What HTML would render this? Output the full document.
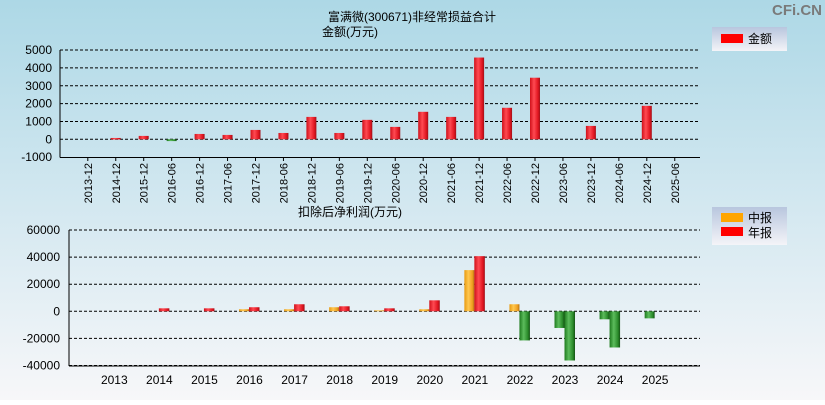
<!DOCTYPE html>
<html><head><meta charset="utf-8">
<style>
html,body{margin:0;padding:0;}
body{width:825px;height:400px;overflow:hidden;font-family:"Liberation Sans","Noto Sans CJK SC",sans-serif;}
svg text{font-family:"Liberation Sans","Noto Sans CJK SC",sans-serif;}
</style></head>
<body>
<svg id="chart" width="825" height="400" viewBox="0 0 825 400" xmlns="http://www.w3.org/2000/svg">
<defs>
<linearGradient id="bg" x1="0" y1="0" x2="0" y2="1">
<stop offset="0" stop-color="#add8e6"/><stop offset="0.55" stop-color="#d6e9f1"/><stop offset="1" stop-color="#f7f7f9"/>
</linearGradient>
<linearGradient id="lg" x1="0" y1="0" x2="0" y2="1">
<stop offset="0" stop-color="#b8c6de"/><stop offset="1" stop-color="#f4f4f8"/>
</linearGradient>
<linearGradient id="red" x1="0" y1="0" x2="1" y2="0">
<stop offset="0" stop-color="#d0101a"/><stop offset="0.4" stop-color="#ff4a52"/><stop offset="0.8" stop-color="#e01520"/><stop offset="1" stop-color="#a01018"/>
</linearGradient>
<linearGradient id="org" x1="0" y1="0" x2="1" y2="0">
<stop offset="0" stop-color="#e89a10"/><stop offset="0.4" stop-color="#ffc850"/><stop offset="0.8" stop-color="#f0a020"/><stop offset="1" stop-color="#b07010"/>
</linearGradient>
<linearGradient id="grn" x1="0" y1="0" x2="1" y2="0">
<stop offset="0" stop-color="#1e7a1e"/><stop offset="0.4" stop-color="#5cbc5c"/><stop offset="0.8" stop-color="#2a8a2a"/><stop offset="1" stop-color="#145214"/>
</linearGradient>
</defs>
<rect x="0" y="0" width="825" height="400" fill="url(#bg)"/>
<text x="822" y="15" font-size="15" font-weight="bold" text-anchor="end" fill="#7a7a7a">CFi.CN</text>
<text x="412" y="21" font-size="12" text-anchor="middle">富满微(300671)非经常损益合计</text>
<text x="350" y="36" font-size="12" text-anchor="middle">金额(万元)</text>
<text x="350" y="216" font-size="12" text-anchor="middle">扣除后净利润(万元)</text>
<g>
<rect x="712" y="27" width="75" height="24" fill="url(#lg)"/>
<rect x="721" y="34" width="22" height="9" fill="#ff0000"/>
<text x="748" y="43" font-size="12">金额</text>
</g>
<g>
<rect x="712" y="207" width="75" height="38" fill="url(#lg)"/>
<rect x="721" y="213" width="22" height="9" fill="#ffa500"/>
<text x="748" y="222" font-size="12">中报</text>
<rect x="721" y="227" width="22" height="9" fill="#ff0000"/>
<text x="748" y="237" font-size="12">年报</text>
</g>
<g id="top"></g>
<g id="bot"></g>
</svg>
<script>
const topCats=["2013-12","2014-12","2015-12","2016-06","2016-12","2017-06","2017-12","2018-06","2018-12","2019-06","2019-12","2020-06","2020-12","2021-06","2021-12","2022-06","2022-12","2023-06","2023-12","2024-06","2024-12","2025-06"];
const topVals=[null,75,190,-100,300,245,525,355,1255,355,1090,695,1540,1255,4580,1765,3450,null,750,null,1875,null];
const topTicks=[5000,4000,3000,2000,1000,0,-1000];
const botYears=["2013","2014","2015","2016","2017","2018","2019","2020","2021","2022","2023","2024","2025"];
const interimVals=[null,null,null,1500,1500,3000,700,1500,30400,5200,-12300,-5900,-5200];
const annualVals=[null,2200,2200,3000,5200,3700,2200,8100,40700,-21500,-36300,-26700,null];
const botTicks=[60000,40000,20000,0,-20000,-40000];
const NS="http://www.w3.org/2000/svg";
function mk(p,t,a){const e=document.createElementNS(NS,t);for(const k in a)e.setAttribute(k,a[k]);p.appendChild(e);return e;}
const T=document.getElementById('top');
const ty=v=>139.3-v*0.01785;
const tx=i=>87.8+i*27.95;
for(const v of topTicks){
  if(v>-1000){const l=mk(T,'line',{x1:60,x2:700,y1:ty(v),y2:ty(v),stroke:'#000','stroke-dasharray':'3,2','stroke-width':1});
  
  }
  const t=mk(T,'text',{x:52,y:ty(v)+4,'font-size':12,'text-anchor':'end'});t.textContent=v;
  
  
}
mk(T,'line',{x1:60,x2:60,y1:50,y2:157.5,stroke:'#000'});
mk(T,'line',{x1:60,x2:700,y1:157.5,y2:157.5,stroke:'#000'});
topCats.forEach((c,i)=>{
  mk(T,'line',{x1:tx(i),x2:tx(i),y1:157.5,y2:161,stroke:'#000'});
  const t=mk(T,'text',{'font-size':11,'text-anchor':'end',transform:`translate(${tx(i)+4},163) rotate(-90)`});t.textContent=c;
  
  
  const v=topVals[i];
  if(v!=null){
    const y0=ty(0),y1=ty(v);
    const r=mk(T,'rect',{x:tx(i)-5,y:Math.min(y0,y1),width:10,height:Math.max(1.5,Math.abs(y1-y0)),fill:v>=0?'url(#red)':'url(#grn)'});
    
    
  }
});
const B=document.getElementById('bot');
const by=v=>311.3-v*0.001355;
const bx=i=>114.3+i*45.07;
for(const v of botTicks){
  const l=mk(B,'line',{x1:69,x2:700,y1:by(v),y2:by(v),stroke:'#000','stroke-dasharray':'3,2','stroke-width':1});
  
  
  const t=mk(B,'text',{x:60,y:by(v)+4,'font-size':12,'text-anchor':'end'});t.textContent=v;
  
  
}
mk(B,'line',{x1:69,x2:69,y1:230,y2:366,stroke:'#000'});
mk(B,'line',{x1:69,x2:700,y1:366,y2:366,stroke:'#000'});
botYears.forEach((y,i)=>{
  const t=mk(B,'text',{x:bx(i),y:384,'font-size':12,'text-anchor':'middle'});t.textContent=y;
  
  
  const iv=interimVals[i],av=annualVals[i];
  if(iv!=null){
    const y0=by(0),y1=by(iv);
    const r=mk(B,'rect',{x:bx(i)-10.5,y:Math.min(y0,y1),width:10,height:Math.abs(y1-y0),fill:iv>=0?'url(#org)':'url(#grn)'});
    
    
  }
  if(av!=null){
    const y0=by(0),y1=by(av);
    const r=mk(B,'rect',{x:bx(i)-0.5,y:Math.min(y0,y1),width:10.5,height:Math.abs(y1-y0),fill:av>=0?'url(#red)':'url(#grn)'});
    
    
  }
});
</script>
</body></html>
